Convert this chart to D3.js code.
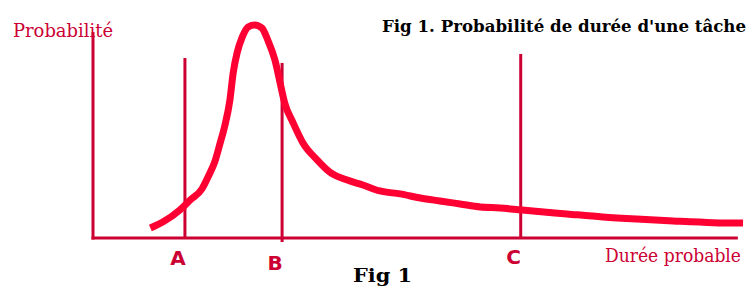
<!DOCTYPE html>
<html>
<head>
<meta charset="utf-8">
<script src="https://cdn.jsdelivr.net/npm/d3@7"></script>
<style>
  html, body { margin: 0; padding: 0; background: #fff; }
  svg { display: block; }
</style>
</head>
<body>
<div id="chart"></div>
<script>
// durée (0..100) and probabilité (0..1)
const duree = [8.8, 10.7, 13.3, 14.9, 16.7, 17.7, 18.7, 19.5, 20.2, 21.0, 21.5, 22.1, 22.9, 23.8, 24.8, 25.9, 26.8, 27.9, 28.7, 29.4, 30.7, 32.2, 34.4, 36.3, 39.0, 41.4, 44.0, 47.1, 50.2, 53.2, 56.3, 59.4, 62.4, 65.8, 72.7, 78.2, 83.4, 89.0, 95.1, 99.7];
const proba = [0.047, 0.075, 0.131, 0.178, 0.230, 0.290, 0.360, 0.446, 0.525, 0.648, 0.775, 0.869, 0.944, 0.991, 1.0, 0.986, 0.930, 0.836, 0.728, 0.634, 0.540, 0.446, 0.366, 0.310, 0.272, 0.249, 0.221, 0.207, 0.188, 0.174, 0.160, 0.146, 0.141, 0.131, 0.113, 0.099, 0.089, 0.080, 0.072, 0.070];

// vertical markers A, B, C
const markerLabels = ["A", "B", "C"];
const markerX = [14.1, 29.0, 65.6];
const markerTop = [0.845, 0.822, 0.864];
const markerBottom = [0, -0.019, 0];

const title = "Fig 1. Probabilité de durée d'une tâche";
const yLabel = "Probabilité";
const xLabel = "Durée probable";
const caption = "Fig 1";

const width = 755, height = 287;
const red = "#cc0033", curveRed = "#ff0033";

const x = d3.scaleLinear().domain([0, 100]).range([93, 745]);
const y = d3.scaleLinear().domain([0, 1]).range([238, 25]);

const svg = d3.select("#chart").append("svg")
    .attr("width", width)
    .attr("height", height);

// axes (no ticks)
svg.append("line")
    .attr("x1", x(0)).attr("x2", x(0))
    .attr("y1", y(0) + 1.5).attr("y2", y(0.967))
    .attr("stroke", red).attr("stroke-width", 3);
svg.append("line")
    .attr("x1", x(0) - 1.5).attr("x2", x(98.9))
    .attr("y1", y(0)).attr("y2", y(0))
    .attr("stroke", red).attr("stroke-width", 3);

// marker lines
markerX.forEach(function (m, i) {
    svg.append("line")
        .attr("x1", x(m)).attr("x2", x(m))
        .attr("y1", y(markerTop[i])).attr("y2", y(markerBottom[i]))
        .attr("stroke", red).attr("stroke-width", 3);
});

// curve
const pts = duree.map((d, i) => [d, proba[i]]);
svg.append("path")
    .datum(pts)
    .attr("fill", "none")
    .attr("stroke", curveRed)
    .attr("stroke-width", 7)
    .attr("stroke-linejoin", "round")
    .attr("d", d3.line()
        .x(function (d) { return x(d[0]) })
        .y(function (d) { return y(d[1]) })
        .curve(d3.curveMonotoneX));

// marker letters
const letterY = [265, 270, 264];
markerLabels.forEach(function (t, i) {
    svg.append("text")
        .attr("x", x(markerX[i]) - 7)
        .attr("y", letterY[i])
        .attr("text-anchor", "middle")
        .attr("font-family", "DejaVu Sans")
        .attr("font-weight", "bold")
        .attr("font-size", 20)
        .attr("fill", red)
        .text(t);
});

// texts
svg.append("text")
    .attr("x", 13).attr("y", 37)
    .attr("font-family", "DejaVu Serif")
    .attr("font-size", 18)
    .attr("textLength", 100).attr("lengthAdjust", "spacingAndGlyphs")
    .attr("fill", red)
    .text(yLabel);

svg.append("text")
    .attr("x", 605).attr("y", 262)
    .attr("font-family", "DejaVu Serif")
    .attr("font-size", 18)
    .attr("textLength", 136).attr("lengthAdjust", "spacingAndGlyphs")
    .attr("fill", red)
    .text(xLabel);

svg.append("text")
    .attr("x", 382).attr("y", 32)
    .attr("font-family", "DejaVu Serif")
    .attr("font-weight", "bold")
    .attr("font-size", 17)
    .attr("textLength", 364).attr("lengthAdjust", "spacingAndGlyphs")
    .attr("fill", "#000")
    .text(title);

svg.append("text")
    .attr("x", 353).attr("y", 282)
    .attr("font-family", "DejaVu Serif")
    .attr("font-weight", "bold")
    .attr("font-size", 19)
    .attr("textLength", 59).attr("lengthAdjust", "spacingAndGlyphs")
    .attr("fill", "#000")
    .text(caption);
</script>
</body>
</html>
